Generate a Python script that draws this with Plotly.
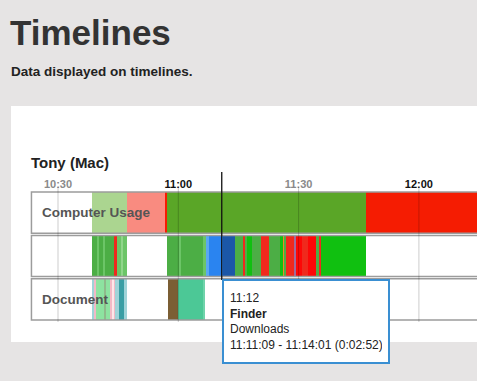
import plotly.graph_objects as go

W, H = 477, 381
FONT = "Liberation Sans, Arial, Helvetica, sans-serif"

# ---------------- data ----------------
row_names = ["Computer Usage", "Application", "Document"]
row_labels_shown = ["Computer Usage", "", "Document"]

usage_start = ["10:38:29", "10:47:12", "10:56:41", "10:57:11", "11:46:49"]
usage_end   = ["10:47:12", "10:56:41", "10:57:11", "11:46:49", "12:20:00"]
usage_state = ["Idle", "Away", "Off", "Active", "Off"]

app_start = ["10:38:29", "10:39:51", "10:40:13", "10:41:21", "10:41:43", "10:43:53", "10:44:38",
             "10:45:50", "10:46:05", "10:57:18", "11:00:18", "11:00:40", "11:06:10", "11:06:59",
             "11:07:44", "11:11:09", "11:14:01", "11:16:13", "11:16:34", "11:17:13", "11:18:27",
             "11:20:42", "11:22:41", "11:25:22", "11:26:11", "11:26:26", "11:26:52", "11:28:51",
             "11:29:17", "11:30:55", "11:32:25", "11:34:16", "11:35:10", "11:35:40"]
app_end   = ["10:39:51", "10:40:13", "10:41:21", "10:41:43", "10:43:53", "10:44:38", "10:45:50",
             "10:46:05", "10:47:13", "11:00:18", "11:00:40", "11:06:10", "11:06:59", "11:07:44",
             "11:11:09", "11:14:01", "11:16:13", "11:16:34", "11:17:13", "11:18:27", "11:20:42",
             "11:22:41", "11:25:22", "11:26:11", "11:26:26", "11:26:52", "11:28:51", "11:29:17",
             "11:30:55", "11:32:25", "11:34:16", "11:35:10", "11:35:40", "11:46:49"]
app_name  = ["Safari", "Messages", "Safari", "Messages", "Safari", "Calendar", "Messages",
             "Terminal", "Messages", "Safari", "Messages", "Safari", "Messages", "Preview",
             "Mail", "Finder", "Safari", "Calendar", "Safari", "FaceTime", "Safari",
             "Calendar", "Safari", "FaceTime", "Photos", "Safari", "Calendar", "Notes",
             "Reminders", "Calendar", "Reminders", "Safari", "Calendar", "FaceTime"]
app_title = {"Finder": "Downloads"}

doc_start = ["10:38:29", "10:38:59", "10:39:21", "10:41:21", "10:42:05", "10:43:05", "10:43:35",
             "10:44:05", "10:44:20", "10:45:20", "10:46:20", "10:57:21", "11:00:00", "11:06:10"]
doc_end   = ["10:38:59", "10:39:21", "10:41:21", "10:42:05", "10:43:05", "10:43:35", "10:44:05",
             "10:44:20", "10:45:20", "10:46:20", "10:47:05", "11:00:00", "11:06:10", "11:06:40"]
doc_name  = ["Inbox", "Notes.txt", "README.md", "Budget.xlsx", "README.md", "Notes.txt", "Agenda",
             "Notes.txt", "Inbox", "Report.pdf", "Inbox", "Photo.jpg", "Timeline.html", "Index.html"]

tick_labels = ["10:30", "11:00", "11:30", "12:00"]
view_start, view_end = "10:23:16", "12:14:29"
cursor_time = "11:10:50"
tooltip_header = "11:12"
tooltip_app = "Finder"

# ---------------- styles ----------------
usage_colors = {"Idle": "#abd590", "Away": "#f98b80", "Off": "#f51c02", "Active": "#5aa627"}
app_colors = {"Safari": "#4cae45", "Messages": "#6cc567", "Terminal": "#90d68a", "Calendar": "#f0291d",
              "Reminders": "#fd0707", "FaceTime": "#10c010", "Mail": "#2a84f0", "Preview": "#5aa8f2",
              "Finder": "#1b57a8", "Photos": "#f0862a", "Notes": "#a06a9c"}
doc_colors = {"Inbox": "#9fd3d8", "Notes.txt": "#f2b9c6", "README.md": "#8de3a0", "Budget.xlsx": "#8fba8c",
              "Agenda": "#fde6e9", "Report.pdf": "#3a9ea4", "Photo.jpg": "#7b5e34",
              "Timeline.html": "#4cc896", "Index.html": "#6fd3aa"}


def to_min(t):
    p = [int(v) for v in t.split(":")]
    return p[0] * 60 + p[1] + (p[2] / 60 if len(p) > 2 else 0)


def fmt_dur(a, b):
    s = round((to_min(b) - to_min(a)) * 60)
    return f"{s // 3600}:{(s % 3600) // 60:02d}:{s % 60:02d}"


fig = go.Figure()
rows = [(usage_start, usage_end, usage_state, usage_colors),
        (app_start, app_end, app_name, app_colors),
        (doc_start, doc_end, doc_name, doc_colors)]
for i, (st, en, nm, cmap) in enumerate(rows):
    fig.add_trace(go.Bar(
        orientation="h",
        y=[i] * len(st),
        base=[to_min(s) for s in st],
        x=[to_min(e) - to_min(s) for s, e in zip(st, en)],
        width=0.95,
        marker=dict(color=[cmap[n] for n in nm], line=dict(width=0)),
        customdata=[[n, s, e] for n, s, e in zip(nm, st, en)],
        hovertemplate="<b>%{customdata[0]}</b><br>%{customdata[1]} - %{customdata[2]}<extra></extra>",
        name=row_names[i],
    ))

LEFT, ROW_TOP, ROW_BOT = 31, 191, 321

def py(px):
    return 1 - px / H

tick_text = [f"<span style='color:{'#111111' if t.endswith(':00') else '#8a8a8a'}'>{t}</span>"
             for t in tick_labels]

shapes = [dict(type="rect", xref="paper", yref="paper", x0=11 / W, x1=1.1, y0=py(342), y1=py(106),
               fillcolor="white", line=dict(width=0), layer="below")]
# row frames
for i in range(3):
    shapes.append(dict(type="rect", xref="x domain", yref="y domain", x0=0.001, x1=1.05,
                       y0=(2.025 - i) / 3, y1=(2.975 - i) / 3,
                       line=dict(color="#9c9c9c", width=1.5), fillcolor="rgba(0,0,0,0)", layer="above"))
# grid lines
for t in tick_labels:
    shapes.append(dict(type="line", xref="x", yref="paper", x0=to_min(t), x1=to_min(t),
                       y0=py(322), y1=py(187), line=dict(color="rgba(0,0,0,0.2)", width=1), layer="above"))
# cursor
shapes.append(dict(type="line", xref="x", yref="paper", x0=to_min(cursor_time), x1=to_min(cursor_time),
                   y0=py(280), y1=py(172), line=dict(color="#111111", width=1.3), layer="above"))

k = app_name.index(tooltip_app)
tip = "<br>".join([tooltip_header, f"<b>{tooltip_app}</b>", app_title[tooltip_app],
                   f"{app_start[k]} - {app_end[k]} ({fmt_dur(app_start[k], app_end[k])})"])

annotations = [
    dict(text="<b>Timelines</b>", xref="paper", yref="paper", x=9 / W, y=py(33), xanchor="left",
         yanchor="middle", showarrow=False, font=dict(family=FONT, size=35, color="#333333"), borderpad=0),
    dict(text="<b>Data displayed on timelines.</b>", xref="paper", yref="paper", x=10 / W, y=py(71.5),
         xanchor="left", yanchor="middle", showarrow=False,
         font=dict(family=FONT, size=13.5, color="#222222"), borderpad=0),
    dict(text="<b>Tony (Mac)</b>", xref="paper", yref="paper", x=30 / W, y=py(162), xanchor="left",
         yanchor="middle", showarrow=False, font=dict(family=FONT, size=15, color="#222222"), borderpad=0),
    dict(text=tip, xref="x", yref="paper", x=to_min(cursor_time), y=py(279), xanchor="left", yanchor="top",
         showarrow=False, align="left", valign="middle", width=152, height=69,
         bgcolor="white", bordercolor="#3a8fd2", borderwidth=2, borderpad=6,
         font=dict(family=FONT, size=12, color="#222222")),
]
for i, lab in enumerate(row_labels_shown):
    if lab:
        annotations.append(dict(text=f"<b>{lab}</b>", xref="paper", yref="y", x=41 / W, y=i,
                                xanchor="left", yanchor="middle", showarrow=False, borderpad=0,
                                font=dict(family=FONT, size=13.5, color="#555555")))

fig.update_layout(
    width=W, height=H, autosize=False,
    margin=dict(l=0, r=0, t=0, b=0),
    paper_bgcolor="#e6e4e4", plot_bgcolor="rgba(0,0,0,0)",
    barmode="overlay", showlegend=False, bargap=0,
    font=dict(family=FONT),
    xaxis=dict(domain=[LEFT / W, 1], range=[to_min(view_start), to_min(view_end)], side="top",
               tickvals=[to_min(t) for t in tick_labels], ticktext=tick_text,
               tickfont=dict(family=FONT, size=11, weight="bold"),
               showgrid=False, zeroline=False, showline=False, ticks="", fixedrange=True),
    yaxis=dict(domain=[py(ROW_BOT), py(ROW_TOP)], range=[2.5, -0.5], showticklabels=False,
               showgrid=False, zeroline=False, showline=False, fixedrange=True),
    shapes=shapes, annotations=annotations,
)

fig.write_html("out.html", config={"displayModeBar": False},
               post_script="document.body.style.margin='0';document.body.style.overflow='hidden';")
